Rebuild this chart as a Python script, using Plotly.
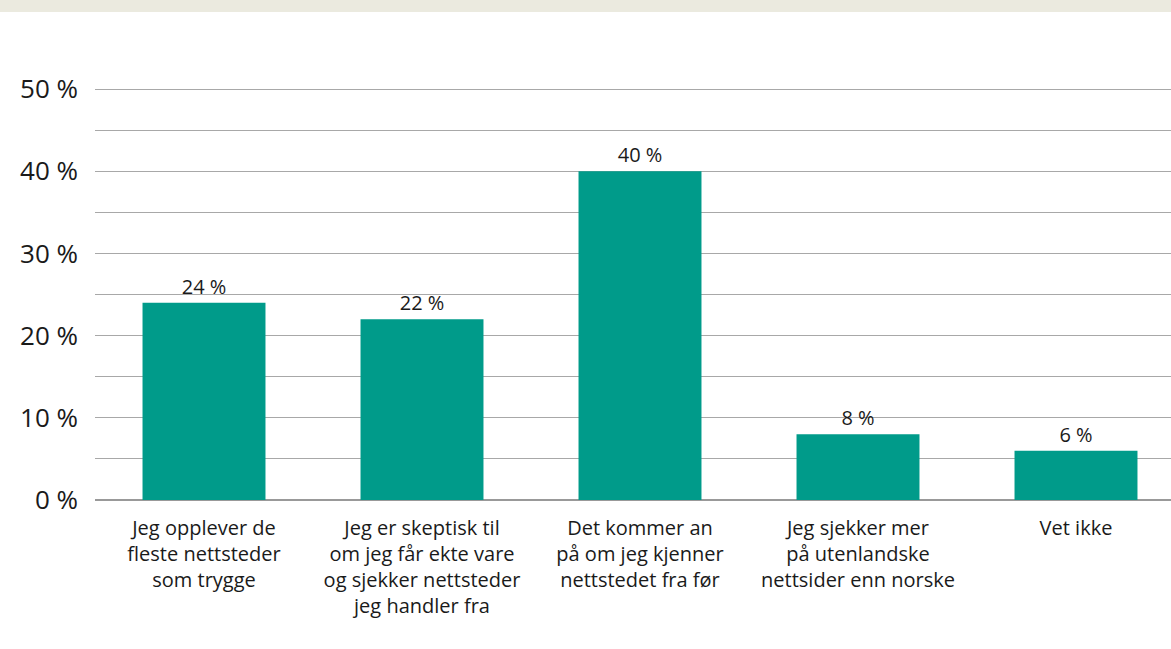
import plotly.graph_objects as go

categories = [
    "Jeg opplever de<br>fleste nettsteder<br>som trygge",
    "Jeg er skeptisk til<br>om jeg får ekte vare<br>og sjekker nettsteder<br>jeg handler fra",
    "Det kommer an<br>på om jeg kjenner<br>nettstedet fra før",
    "Jeg sjekker mer<br>på utenlandske<br>nettsider enn norske",
    "Vet ikke",
]
values = [24, 22, 40, 8, 6]
y_ticks = [0, 10, 20, 30, 40, 50]
y_ticklabels = [f"{v} %" for v in y_ticks]

TEAL = "#009B8A"
FONT = "Open Sans, Lato, sans-serif"
PLOT_H = 415.1  # plot area height in px

fig = go.Figure(go.Bar(
    x=list(range(len(categories))),
    y=values,
    marker=dict(color=TEAL, line=dict(width=0)),
    text=[f"{v} %" for v in values],
    textposition="outside",
    textfont=dict(size=20, color="#1a1a1a", family=FONT),
    cliponaxis=False,
    width=0.564,
))

# beige band across the top (reference: y 0..12 px)
fig.add_shape(type="rect", xref="paper", yref="paper",
              x0=-1, x1=2, y0=(500 - 12) / PLOT_H, y1=1.4,
              fillcolor="#EBEADF", line=dict(width=0), layer="below")

fig.update_layout(
    width=1171, height=649,
    margin=dict(l=95, r=0, t=85, b=149),
    paper_bgcolor="white", plot_bgcolor="white",
    font=dict(family=FONT, color="#1a1a1a"),
    showlegend=False,
)
fig.update_xaxes(
    range=[-0.5, -0.5 + 1076 / 218],
    tickvals=list(range(len(categories))),
    ticktext=categories,
    tickfont=dict(size=20, family=FONT),
    showgrid=False, showline=False, ticks="",
    ticklabelstandoff=14,
)
fig.update_yaxes(
    range=[0, 50.5],
    tickvals=y_ticks,
    ticktext=y_ticklabels,
    tickfont=dict(size=26, family=FONT),
    showgrid=True, gridcolor="#A8A8A8", gridwidth=1,
    minor=dict(dtick=5, showgrid=True, gridcolor="#A8A8A8", gridwidth=1),
    zeroline=True, zerolinecolor="#999999", zerolinewidth=2,
    showline=False, ticks="",
    ticklabelstandoff=16,
)

fig.write_html("out.html", config={"displayModeBar": False},
               post_script="document.body.style.margin='0';")
